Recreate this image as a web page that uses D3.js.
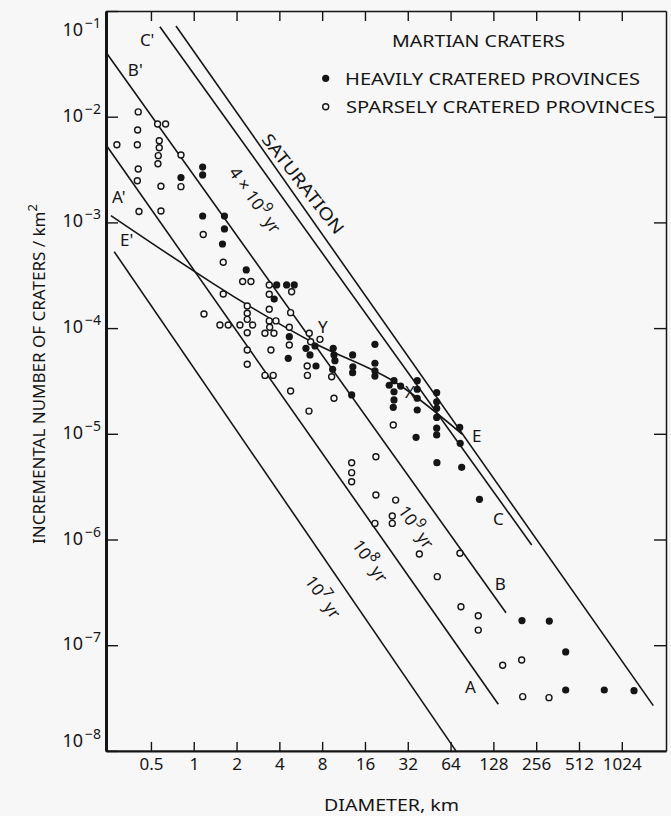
<!DOCTYPE html>
<html><head><meta charset="utf-8">
<script src="https://cdn.jsdelivr.net/npm/d3@7"></script>
<style>
body{margin:0;background:#f7f7f7}
svg{display:block;font-family:"Noto Sans",sans-serif;fill:#151515}
</style>
</head><body>
<svg id="chart" width="671" height="816"></svg>
<script>
// ---------------- data ----------------
const xTickValues = [0.5,1,2,4,8,16,32,64,128,256,512,1024];
const xTickLabels = ["0.5","1","2","4","8","16","32","64","128","256","512","1024"];
const yTickExponents = [-1,-2,-3,-4,-5,-6,-7,-8];
const yRightTickExponents = [-2,-3,-4,-5,-6,-7];

// heavily cratered provinces (filled)  [diameter km, incremental N / km^2]
const heavy = [
[1.155,3.34e-3],[1.155,2.81e-3],[0.813,2.66e-3],[1.155,1.15e-3],[1.644,1.15e-3],[1.644,8.67e-4],[1.592,6.25e-4],
[2.34,3.55e-4],[3.83,2.56e-4],[4.50,2.56e-4],[5.09,2.56e-4],[3.68,1.88e-4],[4.70,8.29e-5],[4.62,5.18e-5],
[6.15,6.44e-5],[6.57,5.57e-5],[7.12,6.77e-5],[7.24,4.38e-5],
[9.57,6.44e-5],[9.69,5.57e-5],[9.84,4.92e-5],[9.48,4.07e-5],
[13.1,5.57e-5],[13.15,4.31e-5],[13.1,3.79e-5],[12.9,2.33e-5],
[18.8,7.03e-5],[18.8,4.65e-5],[18.8,3.95e-5],[18.8,3.52e-5],
[25.6,3.18e-5],[23.7,2.88e-5],[28.5,2.83e-5],[25.6,2.50e-5],[25.6,2.09e-5],[25.3,1.78e-5],
[37.3,3.18e-5],[37.3,2.64e-5],[37.3,2.17e-5],[37.3,1.68e-5],[36.6,9.27e-6],
[51.1,2.45e-5],[51.1,2.01e-5],[51.1,1.74e-5],[51.1,1.43e-5],[51.1,1.13e-5],[51.1,9.75e-6],[51.3,5.33e-6],
[74.2,1.15e-5],[74.8,8.13e-6],[76.6,4.82e-6],[102.2,2.40e-6],
[203.4,1.71e-7],[316.5,1.69e-7],[412.8,8.63e-8],[412.8,3.77e-8],[771,3.77e-8],[1248,3.71e-8]
];

// sparsely cratered provinces (open)
const sparse = [
[0.288,5.43e-3],[0.407,1.11e-2],[0.403,7.48e-3],[0.401,5.43e-3],[0.407,3.20e-3],[0.401,2.48e-3],[0.412,1.27e-3],
[0.557,8.53e-3],[0.634,8.53e-3],[0.572,5.93e-3],[0.572,5.09e-3],[0.563,4.28e-3],[0.560,3.59e-3],[0.588,2.20e-3],[0.588,1.28e-3],
[0.813,4.34e-3],[0.813,2.18e-3],
[1.166,7.69e-4],[1.18,1.36e-4],
[1.612,4.20e-4],[1.612,2.10e-4],[1.528,1.07e-4],[1.748,1.07e-4],
[2.113,1.07e-4],[2.596,1.07e-4],[2.208,2.76e-4],[2.525,2.76e-4],
[2.378,1.62e-4],[2.378,1.38e-4],[2.378,1.21e-4],[2.378,9.04e-5],[2.378,6.21e-5],[2.378,4.55e-5],
[3.396,2.56e-4],[3.396,2.09e-4],[3.396,1.51e-4],[3.396,1.17e-4],[3.785,1.17e-4],[3.42,1.02e-4],[3.168,8.93e-5],[3.665,8.93e-5],[3.49,6.21e-5],[3.168,3.57e-5],[3.62,3.57e-5],
[4.88,2.21e-4],[4.80,1.40e-4],[4.70,1.02e-4],[4.70,6.92e-5],[4.80,2.54e-5],
[6.49,8.93e-5],[6.64,7.43e-5],[7.72,7.83e-5],[6.28,4.38e-5],[6.30,3.57e-5],[6.46,1.64e-5],
[9.33,3.47e-5],[9.69,2.17e-5],
[25.3,1.21e-5],
[12.9,5.33e-6],[12.9,4.29e-6],[12.9,3.52e-6],
[19.1,6.07e-6],[19.1,2.64e-6],[18.8,1.42e-6],
[26.3,2.36e-6],[24.9,1.67e-6],[24.9,1.42e-6],
[38.6,7.29e-7],[74.5,7.40e-7],[51.6,4.45e-7],
[75.7,2.31e-7],[100.2,1.90e-7],[100.2,1.39e-7],
[148.8,6.46e-8],[202.4,7.24e-8],[205.8,3.26e-8],[315,3.19e-8]
];

// isochrons and curves (endpoints / vertices)
const line1e7 = [[0.276,5.28e-4],[69.8,1e-8]];
const lineA   = [[0.244,5.32e-3],[138.6,2.76e-8]];
const lineB   = [[0.240,4.12e-2],[157,2.03e-7]];
const lineC   = [[0.578,7.10e-2],[238,8.87e-7]];
const lineSat = [[0.75,7.21e-2],[1705,2.68e-8]];
const lineE   = [[0.2614,1.16e-3],[7.0,7.23e-5],[27.3,2.96e-5],[77,9.95e-6]];

// line annotations
const pointLabels = [
  {t:"C'", at:[0.418,0.0467]}, {t:"B'", at:[0.344,0.0243]}, {t:"A'", at:[0.266,1.53e-3]},
  {t:"E'", at:[0.303,5.98e-4]}, {t:"Y", at:[7.47,9.0e-5]}, {t:"X", at:[30.6,2.18e-5]},
  {t:"E", at:[90.5,8.36e-6]}, {t:"C", at:[127,1.37e-6]}, {t:"B", at:[131,3.33e-7]}, {t:"A", at:[80.8,3.53e-8]}
];
const ageLabels = [
  {pre:"4 \u00d7 10", sup:"9", post:" yr", at:[2.69,1.63e-3]},
  {pre:"10", sup:"9", post:" yr", at:[36.6,1.31e-6]},
  {pre:"10", sup:"8", post:" yr", at:[17.35,6.26e-7]},
  {pre:"10", sup:"7", post:" yr", at:[8.1,2.86e-7]}
];
const saturationLabel = {t:"SATURATION", at:[5.86,2.31e-3]};

// ---------------- drawing ----------------
const svg = d3.select("#chart");
const x = d3.scaleLog().domain([0.2415, 2095]).range([106, 666]);
const y = d3.scaleLog().domain([1e-8, 1e-1]).range([750.9, 11]);
const ink = "#151515";

// axes
const gB = svg.append("g").attr("transform", `translate(0,${y(1e-8)})`)
  .call(d3.axisBottom(x).tickValues(xTickValues).tickFormat((d,i)=>xTickLabels[i])
    .tickSizeInner(-9).tickSizeOuter(0).tickPadding(7));
const gT = svg.append("g").attr("transform", `translate(0,${y(1e-1)})`)
  .call(d3.axisTop(x).tickValues(xTickValues).tickFormat("").tickSizeInner(-10).tickSizeOuter(0));
const gL = svg.append("g").attr("transform", `translate(${x.range()[0]},0)`)
  .call(d3.axisLeft(y).tickValues(yTickExponents.map(e=>Math.pow(10,e))).tickFormat("").tickSizeInner(-12).tickSizeOuter(0));
const gR = svg.append("g").attr("transform", `translate(${x.range()[1]},0)`)
  .call(d3.axisRight(y).tickValues(yRightTickExponents.map(e=>Math.pow(10,e))).tickFormat("").tickSizeInner(-12).tickSizeOuter(0));

[gB,gT,gL,gR].forEach(g=>{
  g.selectAll("path.domain").attr("stroke", ink);
  g.selectAll(".tick line").attr("stroke", ink).attr("stroke-width", 1.4);
});
gL.select("path.domain").attr("stroke-width", 3);
gB.select("path.domain").attr("stroke-width", 2.2);
gT.select("path.domain").attr("stroke-width", 1.5);
gR.select("path.domain").attr("stroke-width", 1.5);
gB.selectAll(".tick text").attr("fill", ink).attr("font-size", 17).attr("font-family", "Noto Sans");

// y tick labels 10^-n
const yl = svg.append("g").attr("fill", ink);
yTickExponents.forEach(e=>{
  const yy = y(Math.pow(10,e));
  const base = Math.min(Math.max(yy+5, 36), 747);
  yl.append("text").attr("x", 83).attr("y", base).attr("text-anchor","end")
    .attr("font-size", 18).text("10");
  yl.append("text").attr("x", 85).attr("y", base-8).attr("font-size", 14).text("\u2212"+(-e));
});

// lines
const lg = d3.line().x(d=>x(d[0])).y(d=>y(d[1]));
const lines = svg.append("g").attr("fill","none").attr("stroke", ink).attr("stroke-width", 1.6);
[line1e7, lineA, lineB, lineC, lineSat].forEach(l=>lines.append("path").attr("d", lg(l)));
lines.append("path").attr("d", lg.curve(d3.curveMonotoneX)(lineE));

// points
svg.append("g").selectAll("circle").data(sparse).join("circle")
  .attr("cx", d=>x(d[0])).attr("cy", d=>y(d[1])).attr("r", 3.0)
  .attr("fill", "#f7f7f7").attr("stroke", ink).attr("stroke-width", 1.4);
svg.append("g").selectAll("circle").data(heavy).join("circle")
  .attr("cx", d=>x(d[0])).attr("cy", d=>y(d[1])).attr("r", 3.6)
  .attr("fill", ink);

// line letter labels
svg.append("g").selectAll("text").data(pointLabels).join("text")
  .attr("x", d=>x(d.at[0])).attr("y", d=>y(d.at[1]))
  .attr("font-size", 17).attr("fill", ink).text(d=>d.t);

// rotated age labels
const ang = 55;
ageLabels.forEach(a=>{
  const t = svg.append("text")
    .attr("transform", `translate(${x(a.at[0])},${y(a.at[1])}) rotate(${ang})`)
    .attr("text-anchor","middle").attr("y", 6).attr("font-size", 17).attr("fill", ink);
  t.append("tspan").text(a.pre);
  t.append("tspan").attr("dy", -8).attr("font-size", 14).text(a.sup);
  t.append("tspan").attr("dy", 8).text(a.post);
});
svg.append("text")
  .attr("transform", `translate(${x(saturationLabel.at[0])},${y(saturationLabel.at[1])}) rotate(52)`)
  .attr("text-anchor","middle").attr("y", 6).attr("font-size", 17).attr("fill", ink)
  .attr("textLength", 122).attr("lengthAdjust","spacingAndGlyphs").text(saturationLabel.t);

// legend
const lgd = svg.append("g").attr("fill", ink);
lgd.append("text").attr("x", 392).attr("y", 47).attr("font-size", 17)
  .attr("textLength", 173).attr("lengthAdjust","spacingAndGlyphs").text("MARTIAN CRATERS");
lgd.append("circle").attr("cx", 325.7).attr("cy", 78.3).attr("r", 3.6).attr("fill", ink);
lgd.append("text").attr("x", 345).attr("y", 85).attr("font-size", 17)
  .attr("textLength", 295).attr("lengthAdjust","spacingAndGlyphs").text("HEAVILY CRATERED PROVINCES");
lgd.append("circle").attr("cx", 325.7).attr("cy", 106.7).attr("r", 3.0)
  .attr("fill", "#f7f7f7").attr("stroke", ink).attr("stroke-width", 1.4);
lgd.append("text").attr("x", 346).attr("y", 113).attr("font-size", 17)
  .attr("textLength", 309).attr("lengthAdjust","spacingAndGlyphs").text("SPARSELY CRATERED PROVINCES");

// axis titles
svg.append("text").attr("x", 391.5).attr("y", 811).attr("text-anchor","middle")
  .attr("font-size", 17).attr("fill", ink)
  .attr("textLength", 135).attr("lengthAdjust","spacingAndGlyphs").text("DIAMETER, km");
const yt = svg.append("text").attr("transform","translate(45,374) rotate(-90)")
  .attr("text-anchor","middle").attr("font-size", 17).attr("fill", ink);
yt.append("tspan").text("INCREMENTAL NUMBER OF CRATERS / km");
yt.append("tspan").attr("dy", -8).attr("font-size", 13).text("2");
</script>
</body></html>
